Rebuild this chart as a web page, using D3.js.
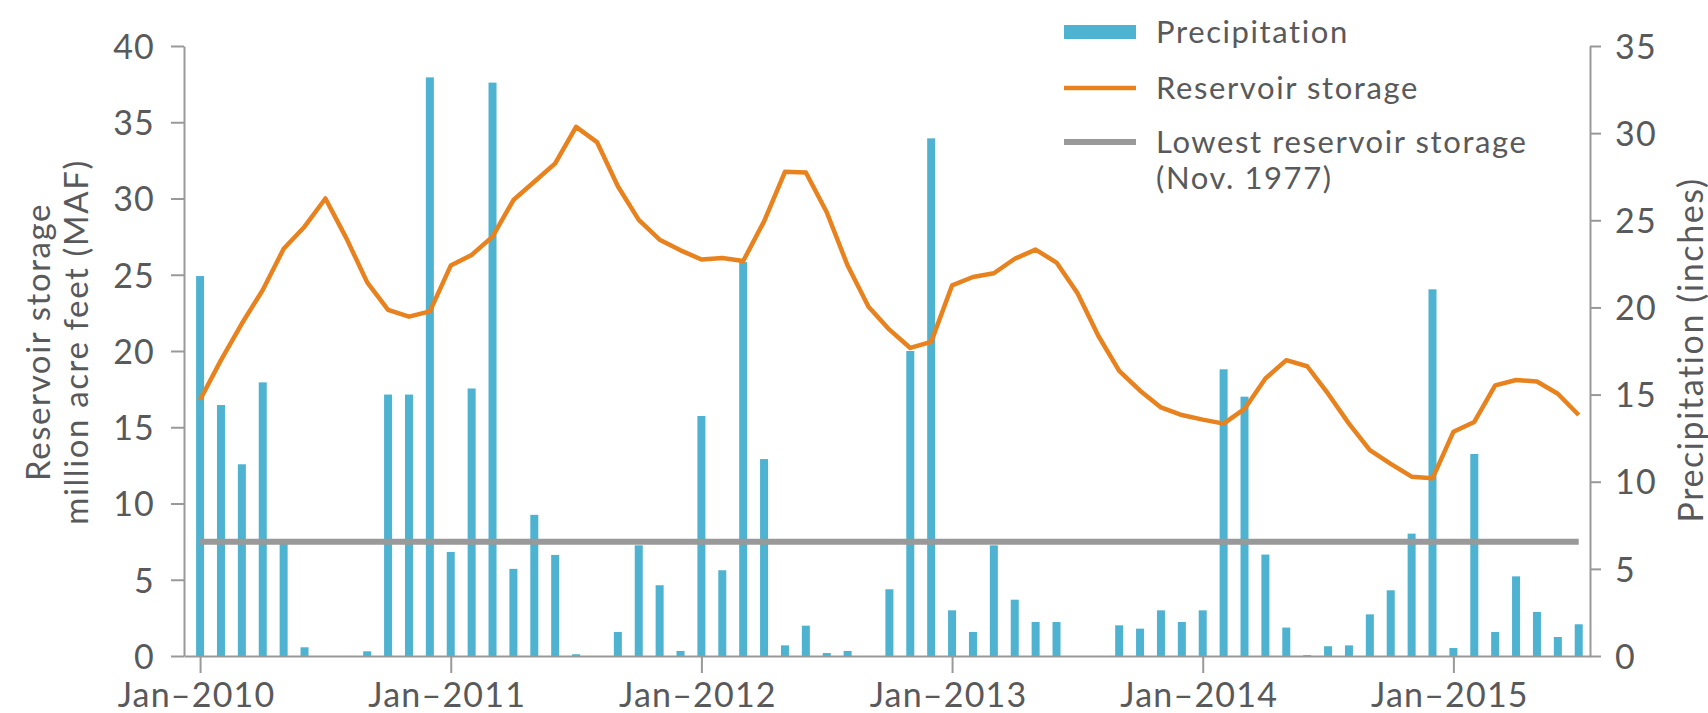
<!DOCTYPE html>
<html>
<head>
<meta charset="utf-8">
<script src="https://cdn.jsdelivr.net/npm/d3@7"></script>
<style>
  body { margin: 0; background: #fff; }
  svg text { font-family: Lato, "Open Sans", sans-serif; fill: #58595b; font-variant-ligatures: none; }
  .axis path, .axis line { stroke: #999; stroke-width: 2px; }
  .axis text { font-size: 34px; fill: #58595b; letter-spacing: 1.2px; }
  .title { font-size: 33px; letter-spacing: 1.6px; }
  .legend text { font-size: 31px; letter-spacing: 1.6px; }
</style>
</head>
<body>
<script>
// monthly values, Jan 2010 .. Jul 2015
var yearTicks = ["Jan–2010", "Jan–2011", "Jan–2012", "Jan–2013", "Jan–2014", "Jan–2015"];

// precipitation (inches), right axis
var precipitation = [
    21.8, 14.4, 11.0, 15.7, 6.45, 0.5, 0, 0, 0.27, 15.0, 15.0, 33.2,
    5.97, 15.35, 32.9, 5.0, 8.1, 5.8, 0.1, 0, 1.38, 6.35, 4.06, 0.29,
    13.77, 4.92, 22.6, 11.3, 0.61, 1.74, 0.17, 0.29, 0, 3.83, 17.5, 29.7,
    2.62, 1.38, 6.35, 3.23, 1.95, 1.95, 0, 0, 1.76, 1.57, 2.62, 1.95,
    2.62, 16.45, 14.88, 5.82, 1.63, 0.05, 0.56, 0.61, 2.39, 3.77, 7.02, 21.04,
    0.46, 11.59, 1.38, 4.57, 2.53, 1.09, 1.82
];

// reservoir storage (MAF), left axis
var storage = [
    16.8, 19.4, 21.8, 24.0, 26.7, 28.15, 30.0, 27.4, 24.5, 22.7, 22.25, 22.6,
    25.6, 26.3, 27.5, 29.9, 31.1, 32.3, 34.7, 33.7, 30.8, 28.6, 27.3, 26.6,
    26.0, 26.1, 25.9, 28.5, 31.75, 31.7, 29.1, 25.6, 22.9, 21.4, 20.2, 20.6,
    24.3, 24.85, 25.1, 26.05, 26.65, 25.8, 23.8, 21.0, 18.7, 17.4, 16.3, 15.8,
    15.5, 15.24, 16.2, 18.2, 19.4, 19.0, 17.2, 15.24, 13.5, 12.6, 11.76, 11.65,
    14.7, 15.35, 17.75, 18.1, 18.0, 17.2, 15.8
];

// lowest storage on record (Nov. 1977), MAF
var lowestStorage = 7.5;

var leftTicks = [0, 5, 10, 15, 20, 25, 30, 35, 40];
var rightTicks = [0, 5, 10, 15, 20, 25, 30, 35];

var legendItems = [
    {label: ["Precipitation"], kind: "bar"},
    {label: ["Reservoir storage"], kind: "line"},
    {label: ["Lowest reservoir storage", "(Nov. 1977)"], kind: "low"}
];

var w = 1708, h = 713;
var colors = {bar: "#4eb2d1", line: "#e8821e", low: "#999999"};

var svg = d3.select("body").append("svg")
    .attr("width", w)
    .attr("height", h);

var plotLeft = 184, plotRight = 1590, plotTop = 46, plotBottom = 656;

// x in month index, Jan 2010 = 0
var x = d3.scaleLinear()
    .domain([-0.77, 66.54])
    .range([plotLeft, plotRight]);

var yL = d3.scaleLinear().domain([0, 40]).range([plotBottom, plotTop]);
var yR = d3.scaleLinear().domain([0, 35]).range([plotBottom, plotTop]);

var months = precipitation.map(function (d, i) { return i; });

// centre a text by its real width (letter-spacing throws text-anchor off)
function centreText(sel, shift) {
    sel.attr("text-anchor", "start").each(function () {
        var bw = this.getBBox().width;
        d3.select(this).attr("x", -bw / 2 + (shift || 0));
    });
}

// bars
svg.append("g").selectAll("rect")
    .data(precipitation)
    .enter()
    .append("rect")
    .attr("x", function (d, i) { return x(i) - 4; })
    .attr("y", function (d) { return yR(d); })
    .attr("width", 8)
    .attr("height", function (d) { return plotBottom - yR(d); })
    .attr("fill", colors.bar);

// lowest storage line
svg.append("line")
    .attr("x1", x(0))
    .attr("x2", x(months.length - 1))
    .attr("y1", yL(lowestStorage))
    .attr("y2", yL(lowestStorage))
    .attr("stroke", colors.low)
    .attr("stroke-width", 6);

// storage line
var line = d3.line()
    .x(function (d, i) { return x(i); })
    .y(function (d) { return yL(d); });

svg.append("path")
    .datum(storage)
    .attr("d", line)
    .attr("fill", "none")
    .attr("stroke", colors.line)
    .attr("stroke-width", 4.5)
    .attr("stroke-linejoin", "round");

// axes
svg.append("g")
    .attr("class", "axis")
    .attr("transform", "translate(" + plotLeft + ",0)")
    .call(d3.axisLeft(yL).tickValues(leftTicks).tickSize(13).tickSizeOuter(0).tickPadding(16))
    .selectAll("text").attr("dy", "0.36em");

svg.append("g")
    .attr("class", "axis")
    .attr("transform", "translate(" + plotRight + ",0)")
    .call(d3.axisRight(yR).tickValues(rightTicks).tickSize(11).tickSizeOuter(0).tickPadding(14))
    .selectAll("text").attr("dy", "0.36em");

var xAxis = svg.append("g")
    .attr("class", "axis")
    .attr("transform", "translate(0," + plotBottom + ")")
    .call(d3.axisBottom(x)
        .tickValues([0, 12, 24, 36, 48, 60])
        .tickFormat(function (d, i) { return yearTicks[i]; })
        .tickSize(17).tickSizeOuter(0).tickPadding(10));
centreText(xAxis.selectAll(".tick text"), -4);

// axis titles
var titles = [
    {text: "Reservoir storage", x: 37, y: 342, size: 33},
    {text: "million acre feet (MAF)", x: 75, y: 342, size: 33},
    {text: "Precipitation (inches)", x: 1689, y: 350, size: 34}
];
titles.forEach(function (t) {
    var el = svg.append("text")
        .attr("class", "title")
        .attr("transform", "translate(" + t.x + "," + t.y + ") rotate(-90)")
        .attr("dominant-baseline", "central")
        .style("font-size", t.size + "px")
        .text(t.text);
    centreText(el, 0);
});

// legend
var legend = svg.append("g").attr("class", "legend").attr("transform", "translate(1064,0)");
var legendY = [32, 88, 142];

legendItems.forEach(function (item, i) {
    var g = legend.append("g").attr("transform", "translate(0," + legendY[i] + ")");
    if (item.kind === "bar") {
        g.append("rect").attr("x", 0).attr("y", -7).attr("width", 72).attr("height", 14)
            .attr("fill", colors.bar);
    } else {
        g.append("line").attr("x1", 0).attr("x2", 72).attr("y1", 0).attr("y2", 0)
            .attr("stroke", colors[item.kind])
            .attr("stroke-width", item.kind === "low" ? 6 : 4.5);
    }
    item.label.forEach(function (t, j) {
        g.append("text")
            .attr("x", 92)
            .attr("y", 11 + j * 36)
            .text(t);
    });
});
</script>
</body>
</html>
